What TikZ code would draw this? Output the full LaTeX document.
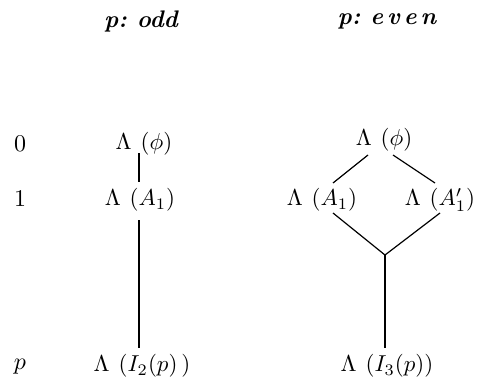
\documentclass[tikz,border=0pt]{standalone}
\usepackage{amsmath}
\newcommand{\lsp}{\mskip7mu}
\begin{document}
\begin{tikzpicture}[x=1pt,y=-1pt,
  lab/.style={inner sep=0pt,scale=2.3},
  rowlab/.style={inner sep=0pt,scale=2.4},
  head/.style={inner sep=0pt,scale=2.4,font=\bfseries\itshape},
  edge/.style={line width=1.2pt}]
\useasboundingbox (0,0) rectangle (479,381);
% headings
\node[head] (hodd) at (141,21) {p:\ odd};
\node[head] (heven) at (387,21) {p:\ e\,v\,e\,n};
% row labels
\node[rowlab] (r0) at (20,144) {$0$};
\node[rowlab] (r1) at (20,199) {$1$};
\node[rowlab] (rp) at (20,367) {$p$};
% left tree
\node[lab] (phiL) at (144,144) {$\Lambda\lsp(\phi)$};
\node[lab] (A1L) at (140,200) {$\Lambda\lsp(A_1)$};
\node[lab] (I2L) at (142,366) {$\Lambda\lsp(I_2(p)\,)$};
\draw[edge] ([shift={(-5,9)}]phiL.center) -- ([shift={(-1,-18)}]A1L.center);
\draw[edge] ([shift={(-1,20)}]A1L.center) -- ([shift={(-3,-18)}]I2L.center);
% right tree
\node[lab] (phiR) at (384,140) {$\Lambda\lsp(\phi)$};
\node[lab] (A1R) at (322,200) {$\Lambda\lsp(A_1)$};
\node[lab] (A1pR) at (440,200) {$\Lambda\lsp(A_1')$};
\node[lab] (I3R) at (387,366) {$\Lambda\lsp(I_3(p))$};
\coordinate (J) at (385,255);
\draw[edge] ([shift={(-16,15)}]phiR.center) -- ([shift={(11,-17)}]A1R.center);
\draw[edge] ([shift={(9,15)}]phiR.center) -- ([shift={(-5,-17)}]A1pR.center);
\draw[edge] ([shift={(11,13)}]A1R.center) -- (J);
\draw[edge] ([shift={(0,13)}]A1pR.center) -- (J);
\draw[edge] (J) -- ([shift={(-2,-18)}]I3R.center);
\end{tikzpicture}
\end{document}
